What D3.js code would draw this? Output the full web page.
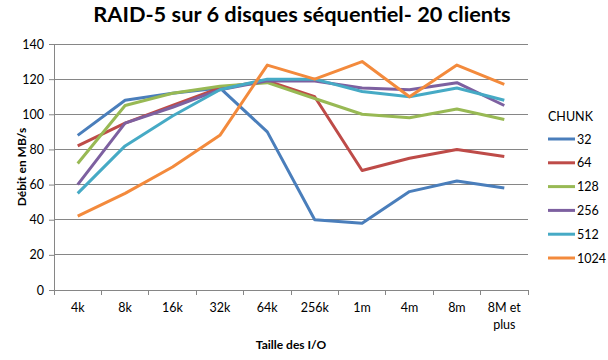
<!DOCTYPE html>
<html><head><meta charset="utf-8">
<script src="https://cdn.jsdelivr.net/npm/d3@7"></script>
<style>body{margin:0;background:#fff}svg{display:block;font-family:Lato,"Liberation Sans",sans-serif}</style>
</head><body><svg id="c" width="608" height="360"></svg>
<script>
const categories = ["4k","8k","16k","32k","64k","256k","1m","4m","8m","8M et plus"];
const seriesNames = ["32","64","128","256","512","1024"];
const s32   = [88,108,112,115,90,40,38,56,62,58];
const s64   = [82,95,105,115,119,110,68,75,80,76];
const s128  = [72,105,112,116,118,109,100,98,103,97];
const s256  = [60,95,104,114,119,119,115,114,118,105];
const s512  = [55,82,99,114,120,120,113,110,115,108];
const s1024 = [42,55,70,88,128,120,130,110,128,117];
const yTicks = [0,20,40,60,80,100,120,140];
const colors = ["#4A7EBB","#BE4B48","#98B954","#7D60A0","#46AAC5","#F38A3C"];
const values = [s32,s64,s128,s256,s512,s1024];

const svg = d3.select("#c");
const L=54, R=528, T=44, B=290;
const x = d3.scaleBand().domain(categories).range([L,R]);
const y = d3.scaleLinear().domain([0,140]).range([B,T]);

svg.append("text").attr("x",302).attr("y",22).attr("text-anchor","middle")
  .attr("font-weight","bold").attr("font-size",21.8).attr("fill","#000")
  .text("RAID-5 sur 6 disques séquentiel- 20 clients");

// gridlines
svg.append("g").selectAll("line").data(yTicks.filter(d=>d>0)).join("line")
  .attr("x1",L).attr("x2",R).attr("y1",d=>y(d)).attr("y2",d=>y(d))
  .attr("stroke","#868686").attr("stroke-width",1).attr("shape-rendering","crispEdges");

const ya = svg.append("g").attr("transform",`translate(${L},0)`)
  .call(d3.axisLeft(y).tickValues(yTicks).tickSize(5).tickPadding(5));
ya.select(".domain").attr("stroke","#868686");
ya.selectAll(".tick line").attr("stroke","#868686");
ya.selectAll("text").attr("font-size",12.5).attr("fill","#000").attr("font-family","Lato");

const xa = svg.append("g").attr("transform",`translate(0,${B})`)
  .call(d3.axisBottom(x).tickSize(0).tickFormat(""));
xa.select(".domain").attr("stroke","#868686");
// boundary ticks
const bounds = categories.map(c=>x(c)).concat([R]);
svg.append("g").selectAll("line").data(bounds).join("line")
  .attr("x1",d=>d).attr("x2",d=>d).attr("y1",B).attr("y2",B+5)
  .attr("stroke","#868686").attr("shape-rendering","crispEdges");
// x labels
const xl = svg.append("g").selectAll("text").data(categories).join("text")
  .attr("text-anchor","middle").attr("font-size",12.5).attr("fill","#000")
  .attr("x",d=>x(d)+x.bandwidth()/2).attr("y",312);
xl.each(function(d){
  const t=d3.select(this);
  if(d==="8M et plus"){
    t.append("tspan").attr("x",x(d)+x.bandwidth()/2).attr("dy",0).text("8M et");
    t.append("tspan").attr("x",x(d)+x.bandwidth()/2).attr("dy",17).text("plus");
  } else t.text(d);
});

svg.append("text").attr("x",(L+R)/2).attr("y",349).attr("text-anchor","middle")
  .attr("font-weight","bold").attr("font-size",12).text("Taille des I/O");
svg.append("text").attr("transform",`translate(26,${(T+B)/2+0}) rotate(-90)`)
  .attr("text-anchor","middle").attr("font-weight","bold").attr("font-size",12).text("Débit en MB/s");

const line = d3.line().x((d,i)=>x(categories[i])+x.bandwidth()/2).y(d=>y(d));
svg.append("g").selectAll("path").data(values).join("path")
  .attr("d",d=>line(d)).attr("fill","none").attr("stroke",(d,i)=>colors[i])
  .attr("stroke-width",3).attr("stroke-linejoin","round").attr("stroke-linecap","butt");

// legend
svg.append("text").attr("x",548).attr("y",121).attr("font-size",12.5).text("CHUNK");
const lg = svg.append("g").selectAll("g").data(seriesNames).join("g")
  .attr("transform",(d,i)=>`translate(548,${139+i*23.8})`);
lg.append("line").attr("x1",0).attr("x2",27).attr("stroke",(d,i)=>colors[i]).attr("stroke-width",3);
lg.append("text").attr("x",29).attr("y",4.5).attr("font-size",12.5).text(d=>d);
</script></body></html>
